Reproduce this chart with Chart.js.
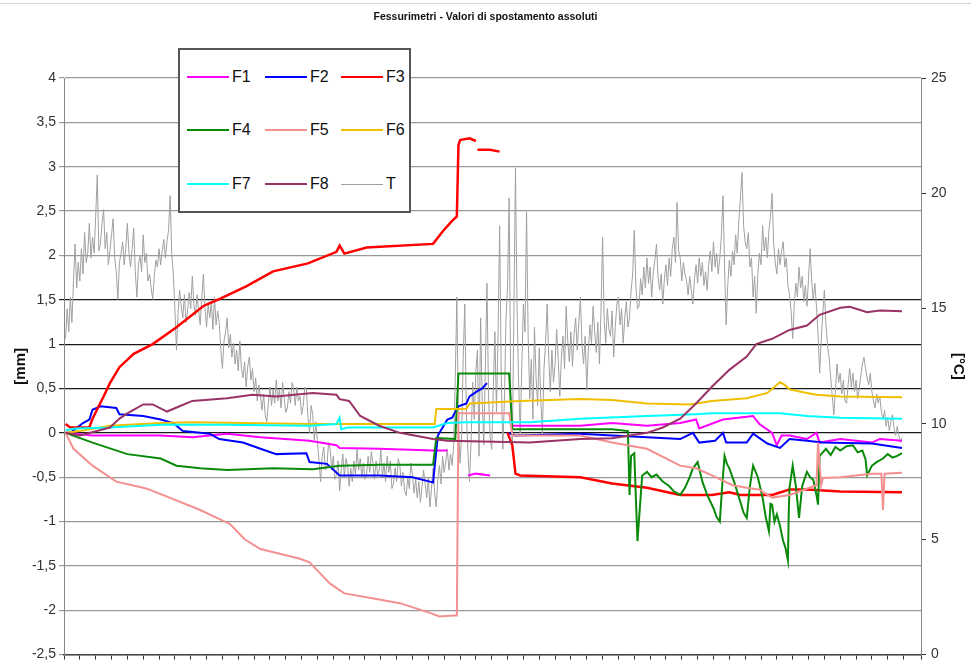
<!DOCTYPE html>
<html>
<head>
<meta charset="utf-8">
<script src="https://cdn.jsdelivr.net/npm/chart.js@4.4.1/dist/chart.umd.min.js"></script>
<style>
body { margin: 0; background: #fff; overflow: hidden; }
#wrap { position: relative; width: 971px; height: 668px; font-family: 'Liberation Sans Narrow', 'Liberation Sans', Arial, sans-serif; }
#topline { position: absolute; left: 0; top: 3px; width: 971px; border-top: 1px solid #d4d4d4; }
#title { position: absolute; left: 0; top: 10px; width: 971px; text-align: center; font-weight: bold; font-size: 10.5px; color: #111; }
#legend { position: absolute; left: 178px; top: 48px; width: 229px; height: 161px; border: 2px solid #555; background: #fff; }
.item { position: absolute; height: 20px; font-size: 16px; color: #111; }
.item span.ln { position: absolute; left: 0; top: 9px; width: 42px; height: 2px; }
.item span.tx { position: absolute; left: 45px; top: 0; line-height: 20px; }
</style>
</head>
<body>
<div id="wrap">
  <div id="topline"></div>
  <div id="title">Fessurimetri - Valori di spostamento assoluti</div>
  <canvas id="chart" width="971" height="668"></canvas>
  <div id="legend"></div>
</div>
<script>
// valori: [settimana, valore]
const names = ['F1', 'F2', 'F3', 'F4', 'F5', 'F6', 'F7', 'F8', 'T'];
const colors = ['#ff00ff', '#0000ff', '#ff0000', '#0a8a0a', '#f49090', '#f0c000', '#00ffff', '#993366', '#a0a0a0'];

const F1 = [[0.1,0],[1.8,-0.03],[6.1,-0.03],[8.1,-0.05],[10.3,-0.01],[12.4,-0.05],[15.5,-0.09],[17.2,-0.14],[17.4,-0.17],[19.9,-0.18],[23.3,-0.2],[24.2,-0.2],[24.5,null],[25.5,-0.48],[26.0,-0.46],[26.9,-0.48],[27.2,null],[28.3,0.08],[32.6,0.08],[34.6,0.11],[36.8,0.08],[38.9,0.11],[39.9,0.15],[40.1,0.05],[41.6,0.15],[43.1,0.18],[43.5,0.19],[43.9,0.1],[44.7,0],[45.0,-0.14],[45.3,-0.03],[45.8,-0.03],[46.9,-0.07],[47.5,0],[47.7,-0.11],[49.0,-0.07],[51.0,-0.11],[51.5,-0.07],[52.9,-0.09]];

const F2 = [[0.1,0],[0.4,0],[1.2,0.11],[1.6,0.15],[1.8,0.26],[2.3,0.3],[3.3,0.28],[3.5,0.21],[5.0,0.19],[6.1,0.15],[6.9,0.11],[7.5,0.02],[9.2,-0.01],[9.8,-0.07],[11.3,-0.11],[12.4,-0.18],[13.4,-0.24],[15.3,-0.23],[15.5,-0.33],[16.6,-0.35],[17.4,-0.48],[19.9,-0.48],[22.0,-0.5],[23.1,-0.55],[23.3,-0.56],[23.6,-0.03],[24.2,0.15],[24.5,0.17],[24.9,0.3],[25.4,0.33],[25.6,0.41],[26.1,0.47],[26.4,0.5],[26.7,0.56],[27.2,null],[28.0,0],[28.5,-0.03],[32.6,-0.01],[34.6,-0.03],[36.8,-0.05],[38.9,-0.07],[39.7,0],[40.1,-0.11],[41.1,-0.09],[41.6,0],[41.8,-0.11],[43.1,-0.11],[43.5,-0.01],[44.4,-0.12],[45.2,-0.17],[45.8,-0.07],[46.9,-0.09],[47.9,-0.11],[51.0,-0.12],[52.9,-0.17]];

const F3 = [[0.1,0.1],[0.4,0.06],[1.6,0.06],[1.8,0.16],[2.5,0.41],[2.9,0.56],[3.5,0.74],[4.4,0.89],[5.6,1.0],[7.1,1.19],[8.8,1.43],[9.7,1.5],[11.5,1.65],[13.2,1.82],[15.4,1.91],[17.2,2.04],[17.4,2.11],[17.7,2.02],[19.1,2.09],[23.3,2.13],[23.9,2.27],[24.5,2.39],[24.8,2.44],[24.9,3.24],[25.0,3.3],[25.6,3.32],[26.0,3.29],[26.05,null],[26.1,3.19],[26.9,3.19],[27.5,3.17],[27.7,null],[28.0,0.0],[28.3,-0.14],[28.5,-0.46],[28.8,-0.48],[32.6,-0.5],[34.6,-0.57],[36.8,-0.62],[38.9,-0.7],[40.9,-0.7],[42.0,-0.67],[42.7,-0.7],[44.7,-0.7],[45.8,-0.64],[46.9,-0.64],[49.0,-0.66],[52.9,-0.67]];

const F4 = [[0.1,0],[1.8,-0.11],[4.0,-0.24],[6.1,-0.29],[7.1,-0.37],[8.6,-0.4],[10.3,-0.42],[13.2,-0.4],[15.7,-0.41],[17.4,-0.37],[19.9,-0.36],[23.3,-0.36],[23.5,-0.06],[24.7,-0.07],[24.9,0.67],[28.1,0.67],[28.3,0.04],[29.2,0.04],[32.6,0.04],[34.6,0.04],[35.6,0.02],[35.7,-0.7],[35.8,-0.26],[36.0,-0.23],[36.2,-1.22],[36.5,-0.48],[36.8,-0.44],[37.1,-0.5],[37.4,-0.47],[37.8,-0.55],[38.2,-0.6],[38.5,-0.66],[38.9,-0.7],[39.2,-0.62],[39.5,-0.5],[39.7,-0.4],[40.0,-0.33],[40.3,-0.55],[40.6,-0.7],[41.0,-0.85],[41.2,-0.95],[41.4,-1.0],[41.55,-0.6],[41.7,-0.26],[41.85,-0.35],[42.0,-0.4],[42.3,-0.55],[42.7,-0.78],[42.9,-0.9],[43.1,-0.96],[43.3,-0.6],[43.5,-0.37],[43.8,-0.5],[44.1,-0.73],[44.3,-0.95],[44.5,-1.11],[44.6,-0.8],[44.7,-0.81],[44.85,-1.0],[45.0,-0.92],[45.2,-1.05],[45.4,-1.22],[45.55,-1.3],[45.7,-1.44],[45.75,-0.9],[45.8,-0.62],[46.0,-0.37],[46.2,-0.6],[46.4,-0.96],[46.6,-0.6],[46.9,-0.44],[47.1,-0.5],[47.3,-0.53],[47.5,-0.7],[47.6,-0.81],[47.7,-0.26],[47.9,-0.22],[48.1,-0.18],[48.4,-0.25],[48.7,-0.16],[49.0,-0.2],[49.4,-0.15],[49.8,-0.14],[50.1,-0.22],[50.4,-0.2],[50.6,-0.3],[50.7,-0.48],[51.0,-0.37],[51.3,-0.33],[51.7,-0.29],[52.0,-0.24],[52.3,-0.28],[52.6,-0.26],[52.9,-0.23]];

const F5 = [[0.1,0],[0.6,-0.18],[1.8,-0.37],[3.3,-0.55],[5.0,-0.62],[5.4,-0.64],[8.6,-0.87],[10.5,-1.03],[11.4,-1.2],[12.4,-1.31],[14.9,-1.42],[15.5,-1.46],[16.2,-1.59],[16.8,-1.7],[17.7,-1.81],[19.9,-1.88],[21.2,-1.92],[23.1,-2.03],[23.7,-2.07],[24.6,-2.06],[24.8,-2.06],[24.9,0.22],[28.1,0.22],[28.3,-0.03],[32.6,-0.03],[34.6,-0.11],[36.8,-0.18],[38.9,-0.37],[39.9,-0.4],[40.9,-0.48],[42.2,-0.59],[43.1,-0.62],[43.9,-0.64],[44.7,-0.73],[45.8,-0.7],[47.5,-0.59],[47.6,-0.11],[47.8,-0.59],[47.9,-0.51],[49.0,-0.5],[51.0,-0.46],[51.6,-0.46],[51.7,-0.87],[51.8,-0.46],[52.9,-0.45]];

const F6 = [[0.1,0],[1.0,0.02],[2.9,0.08],[6.1,0.11],[8.1,0.12],[15.5,0.1],[23.4,0.1],[23.5,0.27],[25.4,0.27],[25.6,0.33],[28.8,0.36],[32.6,0.38],[34.6,0.37],[36.8,0.33],[39.5,0.32],[40.9,0.36],[43.1,0.39],[44.4,0.45],[45.2,0.57],[45.5,0.54],[45.8,0.49],[46.9,0.45],[47.5,0.43],[49.0,0.41],[52.9,0.4]];

const F7 = [[0.1,0.03],[0.7,0.05],[2.9,0.06],[6.1,0.09],[10.3,0.09],[15.5,0.08],[17.2,0.1],[17.4,0.17],[17.5,0.04],[17.9,0.06],[23.3,0.06],[24.2,0.11],[25.4,0.12],[29.4,0.12],[32.6,0.16],[36.8,0.19],[39.9,0.21],[40.9,0.22],[45.2,0.22],[46.9,0.19],[49.0,0.17],[52.9,0.16]];

const F8 = [[0.1,0],[1.0,-0.03],[2.9,0.06],[3.5,0.16],[4.0,0.22],[5.0,0.32],[5.6,0.32],[6.5,0.24],[7.3,0.3],[8.1,0.36],[10.3,0.39],[11.9,0.43],[13.4,0.41],[15.7,0.45],[17.2,0.43],[17.4,0.38],[18.0,0.36],[18.7,0.19],[19.9,0.08],[21.2,0],[23.3,-0.07],[24.2,-0.09],[29.4,-0.11],[32.6,-0.07],[34.6,-0.06],[36.8,0],[37.8,0.06],[38.9,0.16],[39.9,0.33],[40.9,0.52],[42.0,0.71],[43.1,0.86],[43.7,1.0],[44.7,1.06],[45.8,1.16],[46.9,1.21],[47.7,1.33],[49.0,1.41],[49.6,1.42],[50.7,1.36],[51.5,1.38],[52.9,1.37]];

// temperatura [°C], asse destro
const T = [[0.1,13.7],[0.2,15.0],[0.3,14.0],[0.4,15.5],[0.5,14.4],[0.6,16.2],[0.7,17.8],[0.8,15.9],[0.9,17.0],[1.0,16.2],[1.1,17.6],[1.2,16.5],[1.3,18.3],[1.4,17.0],[1.5,17.4],[1.6,18.7],[1.7,17.2],[1.8,18.1],[1.9,17.4],[2.0,19.0],[2.1,20.8],[2.2,17.5],[2.3,17.8],[2.4,18.7],[2.5,19.3],[2.6,17.6],[2.7,18.3],[2.8,16.9],[2.9,17.5],[3.0,18.2],[3.1,18.9],[3.2,17.2],[3.3,16.6],[3.4,15.4],[3.5,17.0],[3.6,17.4],[3.7,17.9],[3.8,16.9],[3.9,17.6],[4.0,18.7],[4.1,17.4],[4.2,16.8],[4.3,17.6],[4.4,18.5],[4.5,16.6],[4.6,15.5],[4.7,16.9],[4.8,17.3],[4.9,16.6],[5.0,18.2],[5.1,17.0],[5.2,17.4],[5.3,16.2],[5.4,16.5],[5.5,15.9],[5.6,15.4],[5.7,16.4],[5.8,17.1],[5.9,16.8],[6.0,17.6],[6.1,16.9],[6.2,17.5],[6.3,18.0],[6.4,17.2],[6.5,17.9],[6.6,18.4],[6.7,19.9],[6.8,17.4],[6.9,16.5],[7.0,15.0],[7.1,13.2],[7.2,14.8],[7.3,15.8],[7.4,15.1],[7.5,14.6],[7.6,15.6],[7.7,14.4],[7.8,14.9],[7.9,15.7],[8.0,15.0],[8.1,16.4],[8.2,15.2],[8.3,14.7],[8.4,15.6],[8.5,14.9],[8.6,14.3],[8.7,15.5],[8.8,16.5],[8.9,15.0],[9.0,14.2],[9.1,15.2],[9.2,14.6],[9.3,15.3],[9.4,14.1],[9.5,15.5],[9.6,14.3],[9.7,14.9],[9.8,14.4],[9.9,13.2],[10.0,12.4],[10.1,13.6],[10.2,14.0],[10.3,14.6],[10.4,13.3],[10.5,13.9],[10.6,12.9],[10.7,13.5],[10.8,12.6],[10.9,13.2],[11.0,12.3],[11.1,13.6],[11.2,12.4],[11.3,12.0],[11.4,12.7],[11.5,11.6],[11.6,12.5],[11.7,12.9],[11.8,11.9],[11.9,12.4],[12.0,11.4],[12.1,12.0],[12.2,11.0],[12.3,11.7],[12.4,11.2],[12.5,10.6],[12.6,11.3],[12.7,10.4],[12.8,10.1],[12.9,10.9],[13.0,11.6],[13.1,10.8],[13.2,11.5],[13.3,10.9],[13.4,11.9],[13.5,11.0],[13.6,11.5],[13.7,10.7],[13.8,11.8],[13.9,11.1],[14.0,10.5],[14.1,10.7],[14.2,11.4],[14.3,10.9],[14.4,11.8],[14.5,11.5],[14.6,10.8],[14.7,11.6],[14.8,11.0],[14.9,11.2],[15.0,10.4],[15.1,10.8],[15.2,11.6],[15.3,11.5],[15.4,10.3],[15.5,9.6],[15.6,10.8],[15.7,10.4],[15.8,9.3],[15.9,10.1],[16.0,9.2],[16.1,8.4],[16.2,7.5],[16.3,8.6],[16.4,9.0],[16.5,8.0],[16.6,8.2],[16.7,9.2],[16.8,8.9],[16.9,8.0],[17.0,8.6],[17.1,7.6],[17.2,7.8],[17.3,8.4],[17.4,7.1],[17.5,8.0],[17.6,8.7],[17.7,7.7],[17.8,8.5],[17.9,8.2],[18.0,7.3],[18.1,8.1],[18.2,7.5],[18.3,8.4],[18.4,7.8],[18.5,8.9],[18.6,8.0],[18.7,8.5],[18.8,7.7],[18.9,8.3],[19.0,7.6],[19.1,7.8],[19.2,8.6],[19.3,7.9],[19.4,8.8],[19.5,8.3],[19.6,7.6],[19.7,8.4],[19.8,7.8],[19.9,8.0],[20.0,8.9],[20.1,7.7],[20.2,8.3],[20.3,7.5],[20.4,8.6],[20.5,7.9],[20.6,8.4],[20.7,7.2],[20.8,7.4],[20.9,8.1],[21.0,7.5],[21.1,8.5],[21.2,8.2],[21.3,7.3],[21.4,7.9],[21.5,7.1],[21.6,6.9],[21.7,7.7],[21.8,7.2],[21.9,8.3],[22.0,7.8],[22.1,7.0],[22.2,7.6],[22.3,6.8],[22.4,7.5],[22.5,6.6],[22.6,7.3],[22.7,8.0],[22.8,7.4],[22.9,6.8],[23.0,7.7],[23.1,6.4],[23.2,7.2],[23.3,8.1],[23.4,7.0],[23.5,6.4],[23.6,7.6],[23.7,8.2],[23.8,7.4],[23.9,8.6],[24.0,7.9],[24.1,8.4],[24.2,8.9],[24.3,8.0],[24.4,8.7],[24.5,8.2],[24.6,9.1],[24.7,12.0],[24.8,15.5],[24.9,10.0],[25.0,8.3],[25.1,9.5],[25.2,12.8],[25.3,15.2],[25.4,10.5],[25.5,8.8],[25.6,7.5],[25.7,9.3],[25.8,11.8],[25.9,10.2],[26.0,12.3],[26.1,13.2],[26.2,8.6],[26.3,14.6],[26.4,11.0],[26.5,9.1],[26.6,12.5],[26.7,16.1],[26.8,11.2],[26.9,9.4],[27.0,8.9],[27.1,11.5],[27.2,14.0],[27.3,10.5],[27.4,13.8],[27.5,18.6],[27.6,12.2],[27.7,8.9],[27.8,11.0],[27.9,14.5],[28.0,16.0],[28.1,19.8],[28.2,11.5],[28.3,8.9],[28.4,14.8],[28.5,21.1],[28.6,15.0],[28.7,11.8],[28.8,9.6],[28.9,12.5],[29.0,15.2],[29.1,14.0],[29.2,19.2],[29.3,13.8],[29.4,11.1],[29.5,12.8],[29.6,10.2],[29.7,14.2],[29.8,12.0],[29.9,10.8],[30.0,13.3],[30.1,11.0],[30.2,9.6],[30.3,12.4],[30.4,13.5],[30.5,15.2],[30.6,12.9],[30.7,11.4],[30.8,13.2],[30.9,11.8],[31.0,12.6],[31.1,14.1],[31.2,12.8],[31.3,11.2],[31.4,12.9],[31.5,13.8],[31.6,12.4],[31.7,15.1],[31.8,13.6],[31.9,12.7],[32.0,14.0],[32.1,12.5],[32.2,13.9],[32.3,14.6],[32.4,13.2],[32.5,14.4],[32.6,15.5],[32.7,13.4],[32.8,12.6],[32.9,13.8],[33.0,11.5],[33.1,13.2],[33.2,14.3],[33.3,13.5],[33.4,15.1],[33.5,14.0],[33.6,13.1],[33.7,14.4],[33.8,12.6],[33.9,14.9],[34.0,18.1],[34.1,14.5],[34.2,13.5],[34.3,15.0],[34.4,14.1],[34.5,13.8],[34.6,14.9],[34.7,12.9],[34.8,14.2],[34.9,15.2],[35.0,15.5],[35.1,14.3],[35.2,15.0],[35.3,13.5],[35.4,14.6],[35.5,15.3],[35.6,14.2],[35.7,14.6],[35.8,15.8],[35.9,16.5],[36.0,18.4],[36.1,16.0],[36.2,15.0],[36.3,15.1],[36.4,16.3],[36.5,15.6],[36.6,16.8],[36.7,15.9],[36.8,17.2],[36.9,16.1],[37.0,16.8],[37.1,15.5],[37.2,16.6],[37.3,17.1],[37.4,17.8],[37.5,16.4],[37.6,15.8],[37.7,16.5],[37.8,15.2],[37.9,16.3],[38.0,16.9],[38.1,16.0],[38.2,17.2],[38.3,16.4],[38.4,17.6],[38.5,18.1],[38.6,17.0],[38.7,19.6],[38.8,17.5],[38.9,17.2],[39.0,16.2],[39.1,17.0],[39.2,16.5],[39.3,16.2],[39.4,15.6],[39.5,16.4],[39.6,15.8],[39.7,15.2],[39.8,16.3],[39.9,16.9],[40.0,16.1],[40.1,17.2],[40.2,16.4],[40.3,17.0],[40.4,16.0],[40.5,16.6],[40.6,15.8],[40.7,16.9],[40.8,17.5],[40.9,16.6],[41.0,17.9],[41.1,16.8],[41.2,17.4],[41.3,16.5],[41.4,17.2],[41.5,18.2],[41.6,19.9],[41.7,16.8],[41.8,14.3],[41.9,16.0],[42.0,17.1],[42.1,16.4],[42.2,17.5],[42.3,16.9],[42.4,18.2],[42.5,17.4],[42.6,18.8],[42.7,19.8],[42.8,20.9],[42.9,18.6],[43.0,17.9],[43.1,17.6],[43.2,18.3],[43.3,16.8],[43.4,17.2],[43.5,15.5],[43.6,16.4],[43.7,14.8],[43.8,16.5],[43.9,17.4],[44.0,16.9],[44.1,18.6],[44.2,17.5],[44.3,18.1],[44.4,17.2],[44.5,18.4],[44.6,19.0],[44.7,20.0],[44.8,17.8],[44.9,17.0],[45.0,16.5],[45.1,17.6],[45.2,16.9],[45.3,17.5],[45.4,17.9],[45.5,16.8],[45.6,17.2],[45.7,16.0],[45.8,15.6],[45.9,14.9],[46.0,13.7],[46.1,15.2],[46.2,16.1],[46.3,15.5],[46.4,16.8],[46.5,15.9],[46.6,16.4],[46.7,15.3],[46.8,16.0],[46.9,15.1],[47.0,16.3],[47.1,17.6],[47.2,16.2],[47.3,15.4],[47.4,16.1],[47.5,15.1],[47.6,13.9],[47.7,12.2],[47.8,13.6],[47.9,14.8],[48.0,15.8],[48.1,14.3],[48.2,13.4],[48.3,12.9],[48.4,12.0],[48.5,11.2],[48.6,10.4],[48.7,11.5],[48.8,12.6],[48.9,11.8],[49.0,12.2],[49.1,11.3],[49.2,11.9],[49.3,11.0],[49.4,10.9],[49.5,11.7],[49.6,12.4],[49.7,11.6],[49.8,12.2],[49.9,11.4],[50.0,11.9],[50.1,11.1],[50.2,11.5],[50.3,12.1],[50.4,12.6],[50.5,12.9],[50.6,12.4],[50.7,12.0],[50.8,11.7],[50.9,12.2],[51.0,11.4],[51.1,11.0],[51.2,10.7],[51.3,11.3],[51.4,10.9],[51.5,11.2],[51.6,10.5],[51.7,10.2],[51.8,10.6],[51.9,9.9],[52.0,10.3],[52.1,9.7],[52.2,10.1],[52.3,10.4],[52.4,9.8],[52.5,9.5],[52.6,9.9],[52.7,9.5],[52.8,9.2],[52.9,9.4]];

const series = [F1, F2, F3, F4, F5, F6, F7, F8, T];
const darkLines = [0, 0.5, 1, 1.5];

const datasets = series.map((s, i) => ({
    label: names[i],
    data: s.map(p => ({ x: p[0], y: p[1] })),
    borderColor: colors[i],
    backgroundColor: colors[i],
    borderWidth: i === 8 ? 1 : (i === 2 ? 2.5 : 2),
    pointRadius: 0,
    tension: 0,
    spanGaps: false,
    yAxisID: i === 8 ? 'y1' : 'y',
    order: i === 8 ? 20 : 10 - i
}));

const fontFam = "'Liberation Sans Narrow', 'Liberation Sans', Arial, sans-serif";

new Chart(document.getElementById('chart'), {
    type: 'line',
    data: { datasets: datasets },
    options: {
        responsive: false,
        animation: false,
        layout: { padding: { left: 8, right: 0, top: 78, bottom: 0 } },
        plugins: { legend: { display: false }, tooltip: { enabled: false } },
        scales: {
            x: {
                type: 'linear', min: 0, max: 54.1,
                ticks: { stepSize: 1, autoSkip: false, maxRotation: 0, callback: () => '' },
                grid: { drawOnChartArea: false, drawTicks: true, tickLength: 5, color: '#333' },
                border: { color: '#444', width: 1.5 },
                afterFit: s => { s.height = 6; }
            },
            y: {
                position: 'left', min: -2.5, max: 4,
                ticks: { stepSize: 0.5, color: '#333', padding: 3, font: { family: fontFam, size: 14 },
                         callback: v => String(v).replace('.', ',') },
                grid: { color: c => darkLines.includes(c.tick.value) ? '#1a1a1a' : '#999', lineWidth: 1.2, tickLength: 5 },
                border: { color: '#888' },
                title: { display: true, text: '[mm]', color: '#111', font: { family: fontFam, size: 15, weight: 'bold' } },
                afterFit: s => { s.width = 56; }
            },
            y1: {
                position: 'right', min: 0, max: 25,
                ticks: { stepSize: 5, color: '#333', padding: 5, font: { family: fontFam, size: 14 } },
                grid: { drawOnChartArea: false, tickLength: 5, color: '#333' },
                border: { color: '#888' },
                title: { display: true, text: '[°C]', color: '#111', font: { family: fontFam, size: 15, weight: 'bold' } },
                afterFit: s => { s.width = 50; }
            }
        }
    }
});

// legenda a tre colonne nel riquadro
const legend = document.getElementById('legend');
const colX = [7, 85, 161];
const rowY = [17, 70, 124];
names.forEach((n, i) => {
    const it = document.createElement('div');
    it.className = 'item';
    it.style.left = colX[i % 3] + 'px';
    it.style.top = rowY[Math.floor(i / 3)] + 'px';
    it.innerHTML = '<span class="ln" style="background:' + colors[i] + (i === 8 ? ';height:1px;top:10px' : '') + '"></span><span class="tx">' + n + '</span>';
    legend.appendChild(it);
});
</script>
</body>
</html>
